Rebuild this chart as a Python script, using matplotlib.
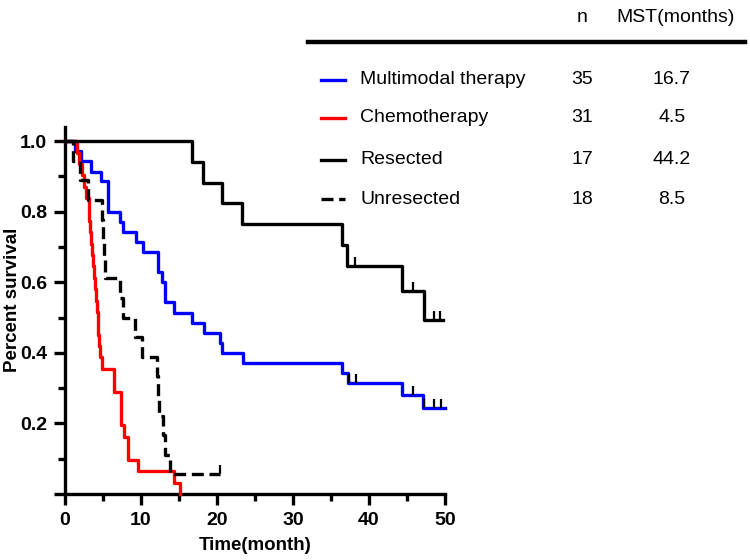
import matplotlib.pyplot as plt
from matplotlib.lines import Line2D

plt.rcParams['font.family'] = ['Liberation Sans', 'DejaVu Sans']

# step curves (time in months, survival fraction)
multi_t = [0, 1.3, 2.1, 3.4, 4.7, 5.6, 7.3, 7.6, 9.3, 10.3, 12.3, 12.7, 13.2, 14.3,
           16.7, 18.3, 20.4, 20.6, 23.4, 36.4, 37.3, 44.3, 47.1, 50.0]
multi_s = [1.0, 0.971, 0.943, 0.914, 0.886, 0.800, 0.771, 0.743, 0.714, 0.686, 0.629,
           0.600, 0.543, 0.514, 0.486, 0.457, 0.429, 0.400, 0.371, 0.343, 0.314,
           0.280, 0.243, 0.243]
multi_cens_t = [37.4, 38.3, 45.8, 47.2, 48.5, 49.5]
multi_cens_s = [0.314, 0.314, 0.280, 0.243, 0.243, 0.243]

chemo_t = [0, 1.6, 1.9, 2.2, 2.5, 2.8, 3.1, 3.2, 3.32, 3.44, 3.56, 3.68, 3.8, 3.92,
           4.04, 4.16, 4.28, 4.4, 4.52, 4.64, 4.8, 6.4, 7.4, 7.7, 8.3, 9.6, 14.3, 15.1]
chemo_s = [1.0, 0.968, 0.935, 0.903, 0.871, 0.839, 0.806, 0.774, 0.742, 0.710, 0.677,
           0.645, 0.613, 0.581, 0.548, 0.516, 0.484, 0.452, 0.419, 0.387, 0.355,
           0.290, 0.194, 0.161, 0.097, 0.065, 0.032, 0.0]

resect_t = [0, 16.7, 18.2, 20.6, 23.3, 36.4, 37.1, 44.3, 47.2, 49.8]
resect_s = [1.0, 0.941, 0.882, 0.824, 0.765, 0.706, 0.647, 0.575, 0.493, 0.493]
resect_cens_t = [38.2, 45.8, 48.5, 49.4]
resect_cens_s = [0.647, 0.575, 0.493, 0.493]

unres_t = [0, 1.1, 2.0, 3.0, 4.8, 5.0, 5.1, 5.3, 7.2, 7.6, 9.2, 10.1, 12.1, 12.2,
           12.4, 12.9, 13.2, 13.8, 20.4]
unres_s = [1.0, 0.944, 0.889, 0.833, 0.778, 0.722, 0.667, 0.611, 0.556, 0.500,
           0.444, 0.389, 0.333, 0.278, 0.222, 0.167, 0.111, 0.056, 0.056]
unres_cens_t = [20.4]
unres_cens_s = [0.056]

groups = ['Multimodal therapy', 'Chemotherapy', 'Resected', 'Unresected']
n_vals = ['35', '31', '17', '18']
mst_vals = ['16.7', '4.5', '44.2', '8.5']
colors = ['#0000ff', '#ff0000', 'black', 'black']
styles = ['-', '-', '-', (0, (3.6, 1.7))]

fig = plt.figure(figsize=(7.5, 5.6), dpi=100)
ax = fig.add_axes([0.0867, 0.118, 0.5066, 0.655])

curves = [(multi_t, multi_s), (chemo_t, chemo_s), (resect_t, resect_s), (unres_t, unres_s)]
for (t, s), c, ls in zip(curves, colors, styles):
    ax.step(t, s, where='post', color=c, lw=2.4, ls=ls, clip_on=False, zorder=3)

for ct, cs in [(multi_cens_t, multi_cens_s), (resect_cens_t, resect_cens_s),
               (unres_cens_t, unres_cens_s)]:
    ax.vlines(ct, cs, [v + 0.025 for v in cs], color='black', lw=1.6, zorder=4)

ax.set_xlim(0, 50)
ax.set_ylim(0, 1.04)
ax.set_xticks([0, 10, 20, 30, 40, 50])
ax.set_xticks([5, 15, 25, 35, 45], minor=True)
ax.set_yticks([0, 0.2, 0.4, 0.6, 0.8, 1.0])
ax.set_yticklabels(['', '0.2', '0.4', '0.6', '0.8', '1.0'])
ax.set_yticks([0.1, 0.3, 0.5, 0.7, 0.9], minor=True)
for sp in ['top', 'right']:
    ax.spines[sp].set_visible(False)
for sp in ['left', 'bottom']:
    ax.spines[sp].set_linewidth(2.4)
ax.tick_params(which='major', direction='out', length=8, width=2.4,
               labelsize=14, pad=5)
ax.tick_params(which='minor', direction='out', length=5, width=2.4)
for lab in ax.get_xticklabels() + ax.get_yticklabels():
    lab.set_fontweight('bold')
ax.set_xlabel('Time(month)', fontsize=13.5, fontweight='bold', labelpad=6)
ax.set_ylabel('Percent survival', fontsize=13.5, fontweight='bold')
ax.yaxis.set_label_coords(-0.116, 0.53)

# table-style legend at the top right
W, H = 750, 560
def fx(px):
    return px / W
def fy(py):
    return 1 - py / H

fig.text(fx(582), fy(18), 'n', ha='center', va='center', fontsize=14)
fig.text(fx(676), fy(18), 'MST(months)', ha='center', va='center', fontsize=14)
fig.add_artist(Line2D([fx(308), fx(745)], [fy(42), fy(42)], color='black', lw=3.2))

row_y = [80, 118, 160, 199]
for g, n, m, c, ls, ry in zip(groups, n_vals, mst_vals, colors, styles, row_y):
    fig.add_artist(Line2D([fx(321), fx(345)], [fy(ry), fy(ry)], color=c, lw=2.4, ls=ls))
    fig.text(fx(360), fy(ry), g, ha='left', va='center', fontsize=14)
    fig.text(fx(582), fy(ry), n, ha='center', va='center', fontsize=14)
    fig.text(fx(672), fy(ry), m, ha='center', va='center', fontsize=14)

fig.savefig('out.png', dpi=100)
